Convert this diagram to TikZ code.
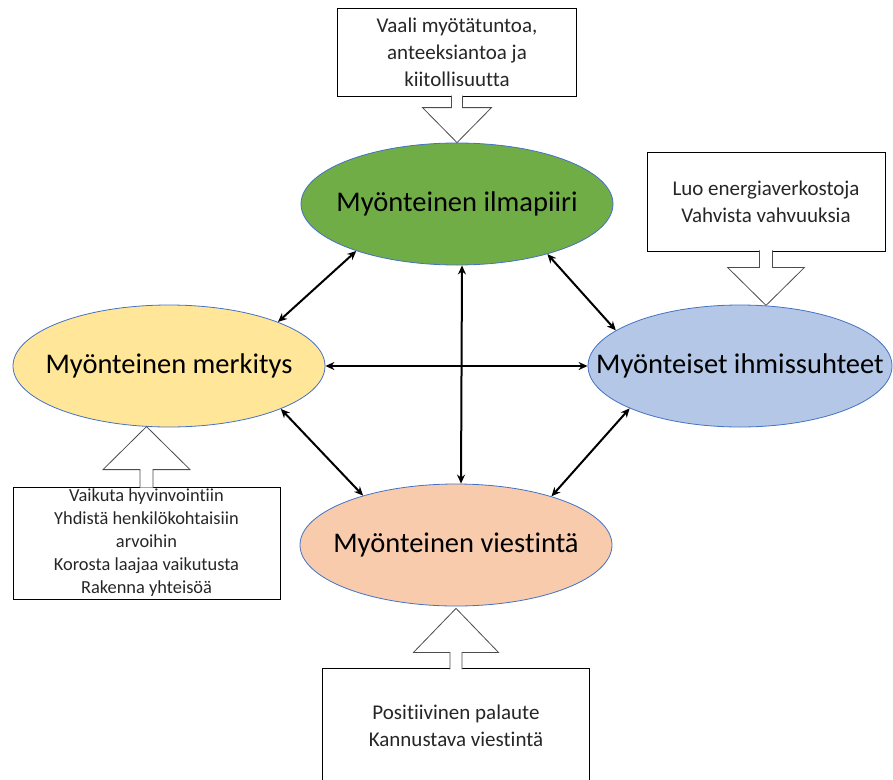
\documentclass[tikz,border=0pt]{standalone}
\usepackage{fontspec}
\setmainfont{Carlito}[Ligatures=NoCommon]
\usetikzlibrary{positioning,arrows.meta,shapes.geometric}
\definecolor{ilmagreen}{HTML}{70AD47}
\definecolor{merkyellow}{HTML}{FFE699}
\definecolor{ihmisblue}{HTML}{B4C7E7}
\definecolor{viestipeach}{HTML}{F8CBAD}
\definecolor{rimblue}{HTML}{4472C4}
\newcommand{\ovaltext}[1]{\makebox[0pt]{#1}}
\tikzset{
  oval/.style={ellipse, draw=rimblue, line width=0.8pt, inner sep=0pt,
    minimum width=312pt, minimum height=122pt, font=\fontsize{28.5}{34}\selectfont},
  box/.style={draw=black, line width=0.8pt, align=center, inner sep=0pt,
    font=\fontsize{21}{26.7}\selectfont, text=black!85},
  link/.style={{Stealth[length=9pt,width=8pt]}-{Stealth[length=9pt,width=8pt]}, line width=2pt},
  blockarr/.style={draw=black!70, fill=white, line width=0.8pt, line join=miter},
}

\begin{document}
\begin{tikzpicture}[x=1pt,y=1pt]
    \useasboundingbox (0,0) rectangle (893,-779);
    \node[oval, fill=ilmagreen] (ilma) at (457,-204) {\ovaltext{Myönteinen ilmapiiri}};
    \node[oval, fill=merkyellow] (merk) at (169,-366) {\ovaltext{Myönteinen merkitys}};
    \node[oval, fill=ihmisblue, minimum width=304pt] (ihmis) at (740,-366) {\ovaltext{Myönteiset ihmissuhteet}};
    \node[oval, fill=viestipeach] (viesti) at (456,-545) {\ovaltext{Myönteinen viestintä}};

    \node[box, minimum width=239pt, minimum height=88pt, above=46pt of ilma] (vaali)
      {Vaali myötätuntoa,\\anteeksiantoa ja\\kiitollisuutta};
    \node[box, minimum width=238pt, minimum height=99pt] (luo) at (766,-201.5)
      {Luo energiaverkostoja\\Vahvista vahvuuksia};
    \node[box, minimum width=267pt, minimum height=112pt, font=\fontsize{18.4}{23}\selectfont] (vaikuta) at (146.5,-543)
      {Vaikuta hyvinvointiin\\Yhdistä henkilökohtaisiin\\arvoihin\\Korosta laajaa vaikutusta\\Rakenna yhteisöä};
    \node[box, minimum width=267pt, minimum height=114pt, below=62pt of viesti] (palaute)
      {Positiivinen palaute\\Kannustava viestintä};

    \draw[blockarr] ([xshift=-5.5pt,yshift=1pt]vaali.south) -- ++(0,-12) -- ++(-29,0) -- ++(34.5,-35)
      -- ++(34.5,35) -- ++(-29,0) -- ++(0,12);
    \draw[blockarr] ([xshift=-6.5pt,yshift=1pt]luo.south) -- ++(0,-17) -- ++(-32,0) -- ++(38.5,-38)
      -- ++(38.5,38) -- ++(-32,0) -- ++(0,17);
    \draw[blockarr] ([xshift=-6.5pt,yshift=-1pt]vaikuta.north) -- ++(0,18) -- ++(-37,0) -- ++(43.5,43)
      -- ++(43.5,-43) -- ++(-37,0) -- ++(0,-18);
    \draw[blockarr] ([xshift=-6pt,yshift=-1pt]palaute.north) -- ++(0,17) -- ++(-36.5,0) -- ++(42.5,44)
      -- ++(42.5,-44) -- ++(-36.5,0) -- ++(0,-17);

    \draw[link] (ilma.205) -- (merk.22);
    \draw[link] (ilma.331) -- (ihmis.164);
    \draw[link] (merk.339) -- (viesti.152);
    \draw[link] (ihmis.201) -- (viesti.27);
    \draw[link] ([xshift=5pt]ilma.south) -- ([xshift=5pt]viesti.north);
    \draw[link] (merk.east) -- (ihmis.west);
\end{tikzpicture}
\end{document}
